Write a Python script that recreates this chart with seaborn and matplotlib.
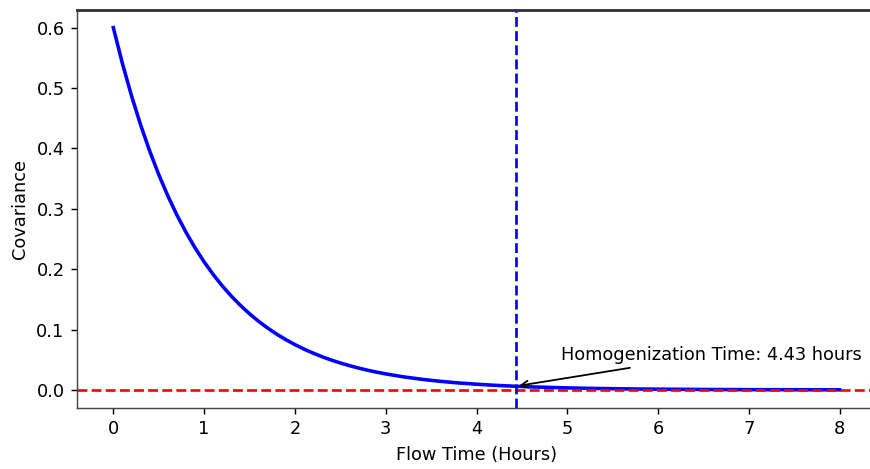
import matplotlib
matplotlib.use("Agg")
import matplotlib.pyplot as plt
import seaborn as sns
import pandas as pd

# Flow time (hours) and covariance
flow_time = [0.0, 0.1, 0.2, 0.3, 0.4, 0.5, 0.6, 0.7, 0.8, 0.9,
             1.0, 1.1, 1.2, 1.3, 1.4, 1.5, 1.6, 1.7, 1.8, 1.9,
             2.0, 2.1, 2.2, 2.3, 2.4, 2.5, 2.6, 2.7, 2.8, 2.9,
             3.0, 3.2, 3.4, 3.6, 3.8,
             4.0, 4.2, 4.4, 4.6, 4.8, 5.0, 5.2, 5.4, 5.6, 5.8,
             6.0, 6.2, 6.4, 6.6, 6.8, 7.0, 7.2, 7.4, 7.6, 7.8, 8.0]
covariance = [0.6000, 0.5407, 0.4873, 0.4392, 0.3958, 0.3567, 0.3215, 0.2897, 0.2611, 0.2353,
              0.2121, 0.1911, 0.1722, 0.1552, 0.1399, 0.1261, 0.1136, 0.1024, 0.0923, 0.0832,
              0.0750, 0.0676, 0.0609, 0.0549, 0.0494, 0.0446, 0.0402, 0.0362, 0.0326, 0.0294,
              0.0265, 0.0215, 0.0175, 0.0142, 0.0115,
              0.0094, 0.0076, 0.0062, 0.0050, 0.0041, 0.0033, 0.0027, 0.0022, 0.0018, 0.0014,
              0.0012, 0.0010, 0.0008, 0.0006, 0.0005, 0.0004, 0.0003, 0.0003, 0.0002, 0.0002, 0.0001]

homog_time = 4.43
homog_cov = 0.006
annot_text = f"Homogenization Time: {homog_time:.2f} hours"
x_label = "Flow Time (Hours)"
y_label = "Covariance"

df = pd.DataFrame({"t": flow_time, "c": covariance})

fig = plt.figure(figsize=(870 / 128, 469 / 128), dpi=128)
ax = fig.add_axes([77 / 870, (469 - 408) / 469, (876 - 77) / 870, (408 - 9.5) / 469])

sns.lineplot(data=df, x="t", y="c", ax=ax, color="blue", linewidth=2)
ax.axhline(0, color="red", linestyle="--", linewidth=1.5)
ax.axvline(homog_time, color="blue", linestyle="--", linewidth=1.5)
ax.annotate(annot_text, xy=(homog_time, homog_cov), xytext=(homog_time + 0.5, 0.05),
            arrowprops=dict(arrowstyle="->", color="black"))

ax.set_xlim(-0.4, 8.4)
ax.set_ylim(-0.03, 0.63)
ax.set_xlabel(x_label)
ax.set_ylabel(y_label)
ax.spines["right"].set_visible(False)
ax.spines["top"].set_linewidth(1.6)
for s in ("left", "bottom"):
    ax.spines[s].set_color("#444444")
ax.spines["top"].set_color("#333333")

fig.savefig("out.png", dpi=128)
